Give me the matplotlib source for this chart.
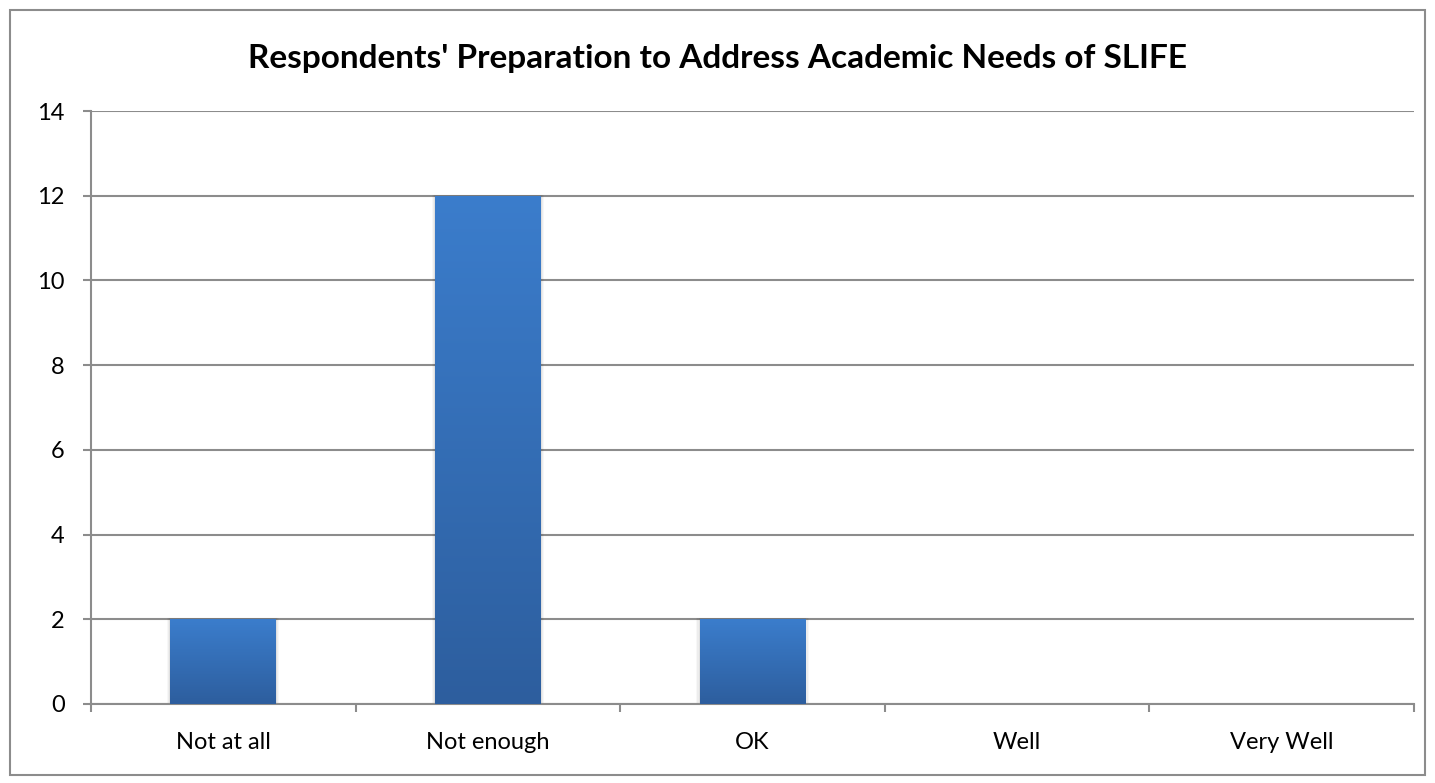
import numpy as np
import matplotlib.pyplot as plt
from matplotlib.patches import Rectangle
from matplotlib.colors import LinearSegmentedColormap

categories = ['Not at all', 'Not enough', 'OK', 'Well', 'Very Well']
counts = [2, 12, 2, 0, 0]
title = "Respondents' Preparation to Address Academic Needs of SLIFE"

plt.rcParams['font.family'] = ['Lato', 'DejaVu Sans']

fig = plt.figure(figsize=(14.35, 7.83), dpi=100)
ax = fig.add_axes([0.0634, 0.1009, 0.922, 0.7573])

# outer chart border
fig.add_artist(Rectangle((0.007, 0.01), 0.986, 0.977, transform=fig.transFigure,
                         fill=False, edgecolor='#8c8c8c', linewidth=1.5))

x = np.arange(len(categories))
width = 0.4
bars = ax.bar(x, counts, width=width, color='none', edgecolor='none', zorder=3)

# vertical gradient, light on top, darker at the bottom
grad = np.linspace(1, 0, 256).reshape(-1, 1)
cmap = LinearSegmentedColormap.from_list('bar', ['#2d5e9e', '#3b7dcc'])
for b in bars:
    h = b.get_height()
    if h <= 0:
        continue
    x0 = b.get_x()
    # soft shadow
    for k, a in enumerate([0.05, 0.04, 0.03]):
        d = 0.004 * (k + 1)
        ax.add_patch(Rectangle((x0 - d, 0), width + 2 * d, h + 0.02, color='black',
                               alpha=a, lw=0, zorder=2))
    im = ax.imshow(grad, extent=(x0, x0 + width, 0, h), aspect='auto',
                   cmap=cmap, vmin=0, vmax=1, zorder=3)
    im.set_clip_path(b)

ax.set_xlim(-0.5, len(categories) - 0.5)
ax.set_ylim(0, 14)
ax.set_yticks(range(0, 15, 2))
ax.yaxis.grid(True, color='#8c8c8c', linewidth=1.5)
ax.set_axisbelow(True)

ax.set_xticks(x)
ax.set_xticklabels(categories, fontsize=17)
ax.tick_params(axis='x', length=0, pad=20)
ax.set_xticks(np.arange(-0.5, len(categories)), minor=True)
ax.tick_params(axis='x', which='minor', length=6, width=1.5, color='#8c8c8c')
ax.tick_params(axis='y', labelsize=17, length=6, width=1.5, color='#8c8c8c', pad=13)

for side in ['top', 'right']:
    ax.spines[side].set_visible(False)
for side in ['left', 'bottom']:
    ax.spines[side].set_color('#8c8c8c')
    ax.spines[side].set_linewidth(1.5)

fig.text(0.5, 0.925, title, ha='center', va='center', fontsize=24, fontweight='bold')

fig.savefig('out.png', dpi=100, facecolor='white')
